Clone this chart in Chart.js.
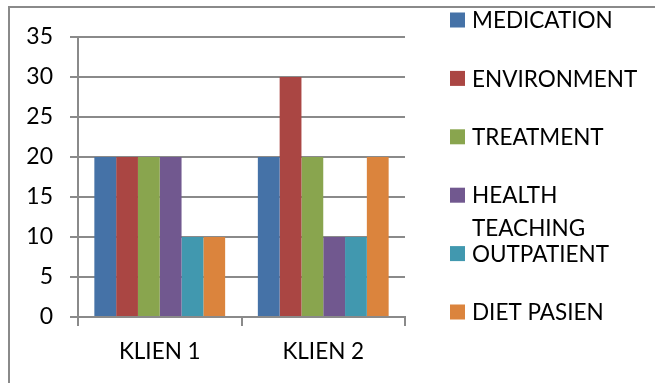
<!DOCTYPE html>
<html>
<head>
<meta charset="utf-8">
<script src="https://cdn.jsdelivr.net/npm/chart.js@4/dist/chart.umd.min.js"></script>
<style>
  html, body { margin: 0; padding: 0; background: #fff; overflow: hidden; }
  #wrap { position: relative; width: 655px; height: 383px; }
</style>
</head>
<body>
<div id="wrap"><canvas id="c" width="655" height="383"></canvas></div>
<script>
// Categories (clients) and series (scores per aspect)
const categories = ['KLIEN 1', 'KLIEN 2'];
const seriesNames = ['MEDICATION', 'ENVIRONMENT', 'TREATMENT', 'HEALTH TEACHING', 'OUTPATIENT', 'DIET PASIEN'];
const medication     = [20, 20];
const environment    = [20, 30];
const treatment      = [20, 20];
const healthTeaching = [20, 10];
const outpatient     = [10, 10];
const dietPasien     = [10, 20];
const yTicks = [0, 5, 10, 15, 20, 25, 30, 35];

const seriesValues = [medication, environment, treatment, healthTeaching, outpatient, dietPasien];
const seriesColors = ['#4572A7', '#AA4643', '#89A54E', '#71588F', '#4198AF', '#DB843D'];

const FONT = 'Lato, "Liberation Sans", sans-serif';
const GRID = '#8a8a8a';

// Outer frame of the chart box
const framePlugin = {
  id: 'frame',
  beforeDraw(chart) {
    const ctx = chart.ctx;
    ctx.save();
    ctx.strokeStyle = '#8a8a8a';
    ctx.lineWidth = 2;
    ctx.beginPath();
    ctx.moveTo(9, 400);
    ctx.lineTo(9, 7);
    ctx.lineTo(700, 7);
    ctx.stroke();
    ctx.restore();
  }
};

// Legend drawn to the right of the plot, with wrapped long names
const sideLegend = {
  id: 'sideLegend',
  afterDraw(chart) {
    const ctx = chart.ctx;
    const x0 = 450, box = 15, textX = 472, top = 20, step = 58.4, lineH = 33, maxW = 172;
    ctx.save();
    ctx.font = '22.5px ' + FONT;
    ctx.textBaseline = 'middle';
    ctx.textAlign = 'left';
    chart.data.datasets.forEach((ds, i) => {
      const cy = top + i * step;
      ctx.fillStyle = ds.backgroundColor;
      ctx.fillRect(x0, cy - box / 2, box, box);
      // word wrap
      const words = ds.label.split(' ');
      const lines = [];
      let cur = '';
      words.forEach(w => {
        const t = cur ? cur + ' ' + w : w;
        if (cur && ctx.measureText(t).width > maxW) { lines.push(cur); cur = w; }
        else cur = t;
      });
      lines.push(cur);
      ctx.fillStyle = '#000';
      lines.forEach((ln, k) => ctx.fillText(ln, textX, cy + k * lineH + 1));
    });
    ctx.restore();
  }
};

new Chart(document.getElementById('c'), {
  type: 'bar',
  data: {
    labels: categories,
    datasets: seriesNames.map((name, i) => ({
      label: name,
      data: seriesValues[i],
      backgroundColor: seriesColors[i],
      borderWidth: 0,
      barPercentage: 1,
      categoryPercentage: 0.8
    }))
  },
  options: {
    responsive: false,
    animation: false,
    devicePixelRatio: 1,
    layout: { padding: { left: 0, top: 37, right: 250, bottom: 0 } },
    plugins: { legend: { display: false }, tooltip: { enabled: false } },
    scales: {
      x: {
        grid: { display: true, drawOnChartArea: false, drawTicks: true, tickLength: 9, color: GRID, lineWidth: 2, offset: true },
        border: { display: true, color: GRID, width: 2 },
        ticks: { color: '#000', font: { family: FONT, size: 22.5 }, padding: 12 },
        afterFit(s) { s.height = 66; }
      },
      y: {
        min: 0, max: 35,
        afterBuildTicks(s) { s.ticks = yTicks.map(v => ({ value: v })); },
        grid: { color: GRID, lineWidth: 2, tickLength: 8, drawTicks: true },
        border: { display: true, color: GRID, width: 2 },
        ticks: { color: '#000', font: { family: FONT, size: 23 }, padding: 17 },
        afterFit(s) { s.width = 78; }
      }
    }
  },
  plugins: [framePlugin, sideLegend]
});
</script>
</body>
</html>
